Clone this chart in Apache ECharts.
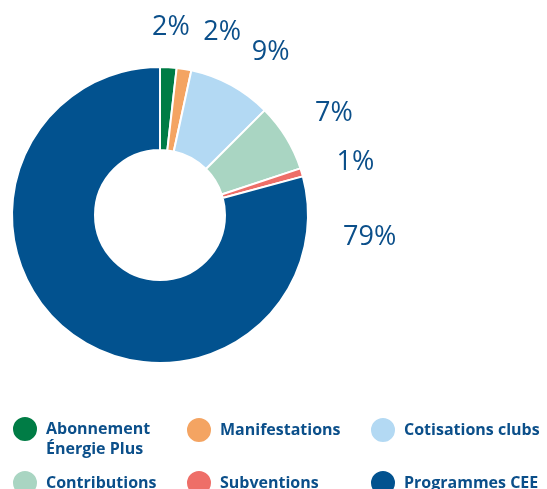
<!DOCTYPE html>
<html>
<head>
<meta charset="utf-8">
<script src="https://cdn.jsdelivr.net/npm/echarts@6/dist/echarts.min.js"></script>
<style>html,body{margin:0;padding:0;background:#fff}#c{width:547px;height:489px}</style>
</head>
<body>
<div id="c"></div>
<script>
var categories = ['Abonnement\nÉnergie Plus', 'Manifestations', 'Cotisations clubs', 'Contributions', 'Subventions', 'Programmes CEE'];
var values = [1.8, 1.6, 9.1, 7.4, 0.9, 79.2];
var colors = ['#007c45', '#f4a462', '#b3d9f3', '#a9d5c2', '#ee6e68', '#02528f'];

var CX = 160, CY = 215, R_IN = 65, R_OUT = 148;
var total = values.reduce(function (a, b) { return a + b; }, 0);

// label angles: mid-angle of each slice, spread with a minimum separation
var labelAngles = [];
(function () {
  var cum = 0, prev = -999;
  values.forEach(function (v, i) {
    var mid = (cum + v / 2) / total * 360;
    cum += v;
    var a = Math.max(mid, prev + 15);
    if (mid > 180) a = prev + 21;
    labelAngles.push(a);
    prev = a;
  });
})();

var chart = echarts.init(document.getElementById('c'), null, { renderer: 'canvas' });

var legendPos = [
  { left: 11, top: 399, pre: '\n' },
  { left: 185, top: 416, pre: '' },
  { left: 369, top: 416, pre: '' },
  { left: 11, top: 469, pre: '' },
  { left: 185, top: 469, pre: '' },
  { left: 369, top: 469, pre: '' }
];

var legends = categories.map(function (name, i) {
  return {
    data: [name],
    left: legendPos[i].left,
    top: legendPos[i].top,
    orient: 'vertical',
    icon: 'circle',
    itemWidth: 26,
    itemHeight: 26,
    itemGap: 0,
    padding: 0,
    selectedMode: false,
    formatter: function (n) { return legendPos[i].pre + n; },
    textStyle: {
      color: '#0b4f8a',
      fontFamily: 'Open Sans',
      fontWeight: 'bold',
      fontSize: 16,
      lineHeight: 20,
      padding: [0, 0, 0, 3]
    }
  };
});

chart.setOption({
  animation: false,
  color: colors,
  legend: legends,
  series: [{
    type: 'pie',
    center: [CX, CY],
    radius: [R_IN, R_OUT],
    startAngle: 90,
    clockwise: true,
    avoidLabelOverlap: false,
    itemStyle: { borderColor: '#fff', borderWidth: 2 },
    label: {
      show: true,
      position: 'outside',
      formatter: function (p) { return Math.round(p.percent) + '%'; },
      color: '#0b4f8a',
      fontFamily: 'Open Sans',
      fontSize: 27,
      fontWeight: 500
    },
    labelLine: { show: false },
    labelLayout: function (p) {
      var a = labelAngles[p.dataIndex] * Math.PI / 180;
      var hw = p.labelRect.width / 2, hh = 10;
      var r = 183 + Math.abs(Math.sin(a)) * hw + Math.abs(Math.cos(a)) * hh;
      return {
        x: CX + r * Math.sin(a),
        y: CY - r * Math.cos(a) + 6,
        align: 'center',
        verticalAlign: 'middle'
      };
    },
    data: categories.map(function (n, i) { return { name: n, value: values[i] }; })
  }]
});
</script>
</body>
</html>
